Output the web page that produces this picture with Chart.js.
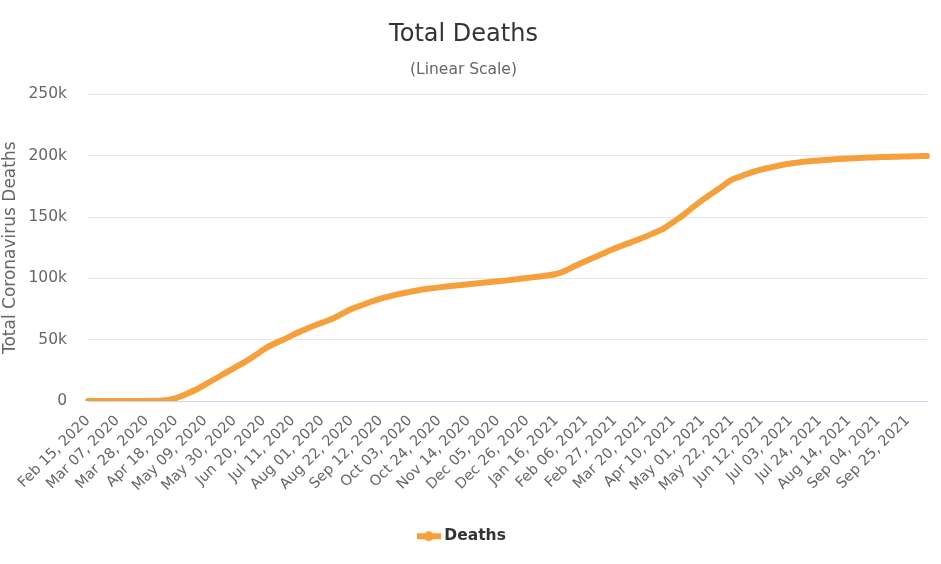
<!DOCTYPE html>
<html>
<head>
<meta charset="utf-8">
<title>Total Deaths</title>
<script src="https://cdn.jsdelivr.net/npm/chart.js@4.4.1/dist/chart.umd.min.js"></script>
<style>
  html, body { margin: 0; padding: 0; background: #fff; }
  #wrap { width: 941px; height: 564px; }
</style>
</head>
<body>
<div id="wrap"><canvas id="myChart"></canvas></div>
<script>
// weekly dates, Feb 15 2020 .. Oct 09 2021 (one label shown every 3 weeks)
const months = ['Jan','Feb','Mar','Apr','May','Jun','Jul','Aug','Sep','Oct','Nov','Dec'];
const dates = [];
for (let i = 0; i < 87; i++) {
  const d = new Date(Date.UTC(2020, 1, 15 + i * 7));
  dates.push(months[d.getUTCMonth()] + ' ' + String(d.getUTCDate()).padStart(2, '0') + ', ' + d.getUTCFullYear());
}

// total deaths (one value per week)
const deaths = [
  0, 0, 0, 0, 0, 10, 30, 200, 700, 2500,
  5500, 9000, 13500, 18000, 22500, 27000, 31500, 36500, 42000, 46500,
  50000, 54000, 57500, 61000, 64000, 67000, 71000, 75000, 78000, 81000,
  83500, 85500, 87500, 89000, 90500, 91700, 92700, 93600, 94500, 95300,
  96000, 96800, 97600, 98400, 99400, 100400, 101300, 102300, 103600, 106500,
  110500, 114000, 117500, 121000, 124500, 127500, 130500, 133500, 137000, 140500,
  146000, 151500, 158000, 164000, 169500, 175000, 180500, 183500, 186500, 188700,
  190500, 192200, 193600, 194700, 195500, 196200, 196800, 197300, 197800, 198200,
  198500, 198800, 199000, 199200, 199400, 199600, 199800
];

const yTicks = [0, 50000, 100000, 150000, 200000, 250000];

const orange = '#f5a03a';

// legend symbol: line with a round marker
const legendIcon = document.createElement('canvas');
legendIcon.width = 24;
legendIcon.height = 12;
const ic = legendIcon.getContext('2d');
ic.strokeStyle = orange;
ic.lineWidth = 6;
ic.beginPath(); ic.moveTo(0, 6); ic.lineTo(24, 6); ic.stroke();
ic.fillStyle = orange;
ic.beginPath(); ic.arc(12, 6, 5, 0, Math.PI * 2); ic.fill();

const FONT = "'DejaVu Sans', Verdana, sans-serif";

new Chart(document.getElementById('myChart'), {
  type: 'line',
  data: {
    labels: dates,
    datasets: [{
      label: 'Deaths',
      data: deaths,
      borderColor: orange,
      backgroundColor: orange,
      borderWidth: 6,
      borderCapStyle: 'round',
      borderJoinStyle: 'round',
      pointRadius: 0,
      pointHoverRadius: 4,
      pointStyle: legendIcon,
      tension: 0.3,
      fill: false
    }]
  },
  options: {
    responsive: true,
    maintainAspectRatio: false,
    animation: false,
    layout: { padding: { left: 0, right: 14, top: 0, bottom: 10 } },
    plugins: {
      title: {
        display: true,
        text: 'Total Deaths',
        color: '#333333',
        font: { family: FONT, size: 24, weight: 'normal' },
        padding: { top: 20, bottom: 10 }
      },
      subtitle: {
        display: true,
        text: '(Linear Scale)',
        color: '#666666',
        font: { family: FONT, size: 15.5 },
        padding: { top: 2, bottom: 15 }
      },
      legend: {
        position: 'bottom',
        labels: {
          usePointStyle: true,
          color: '#333333',
          font: { family: FONT, size: 15.5, weight: 'bold' },
          padding: 12
        }
      },
      tooltip: { enabled: true }
    },
    scales: {
      x: {
        type: 'category',
        grid: { display: false },
        border: { display: true, color: '#ccd6eb' },
        ticks: {
          autoSkip: false,
          minRotation: 45,
          maxRotation: 45,
          color: '#666666',
          font: { family: FONT, size: 14.5 },
          padding: 3,
          callback: function (val, idx) {
            return idx % 3 === 0 ? this.getLabelForValue(val) : '';
          }
        },
        afterFit: (scale) => {
          // first rotated label may hang left past the plot, like the original
          scale.paddingLeft = 0;
          scale.paddingRight = 0;
          scale.height += 19;
        }
      },
      y: {
        min: 0,
        max: 250000,
        afterBuildTicks: (axis) => { axis.ticks = yTicks.map(v => ({ value: v })); },
        afterFit: (scale) => { scale.width = 88; },
        grid: {
          color: (ctx) => (ctx.tick && ctx.tick.value === 0 ? '#ccd6eb' : '#e6e6e6'),
          drawTicks: false
        },
        border: { display: false },
        title: {
          display: true,
          text: 'Total Coronavirus Deaths',
          color: '#666666',
          font: { family: FONT, size: 17 },
          padding: { top: 0, bottom: 4 }
        },
        ticks: {
          color: '#666666',
          font: { family: FONT, size: 15.5 },
          padding: 21,
          callback: (v) => (v === 0 ? '0' : (v / 1000) + 'k')
        }
      }
    }
  }
});
</script>
</body>
</html>
